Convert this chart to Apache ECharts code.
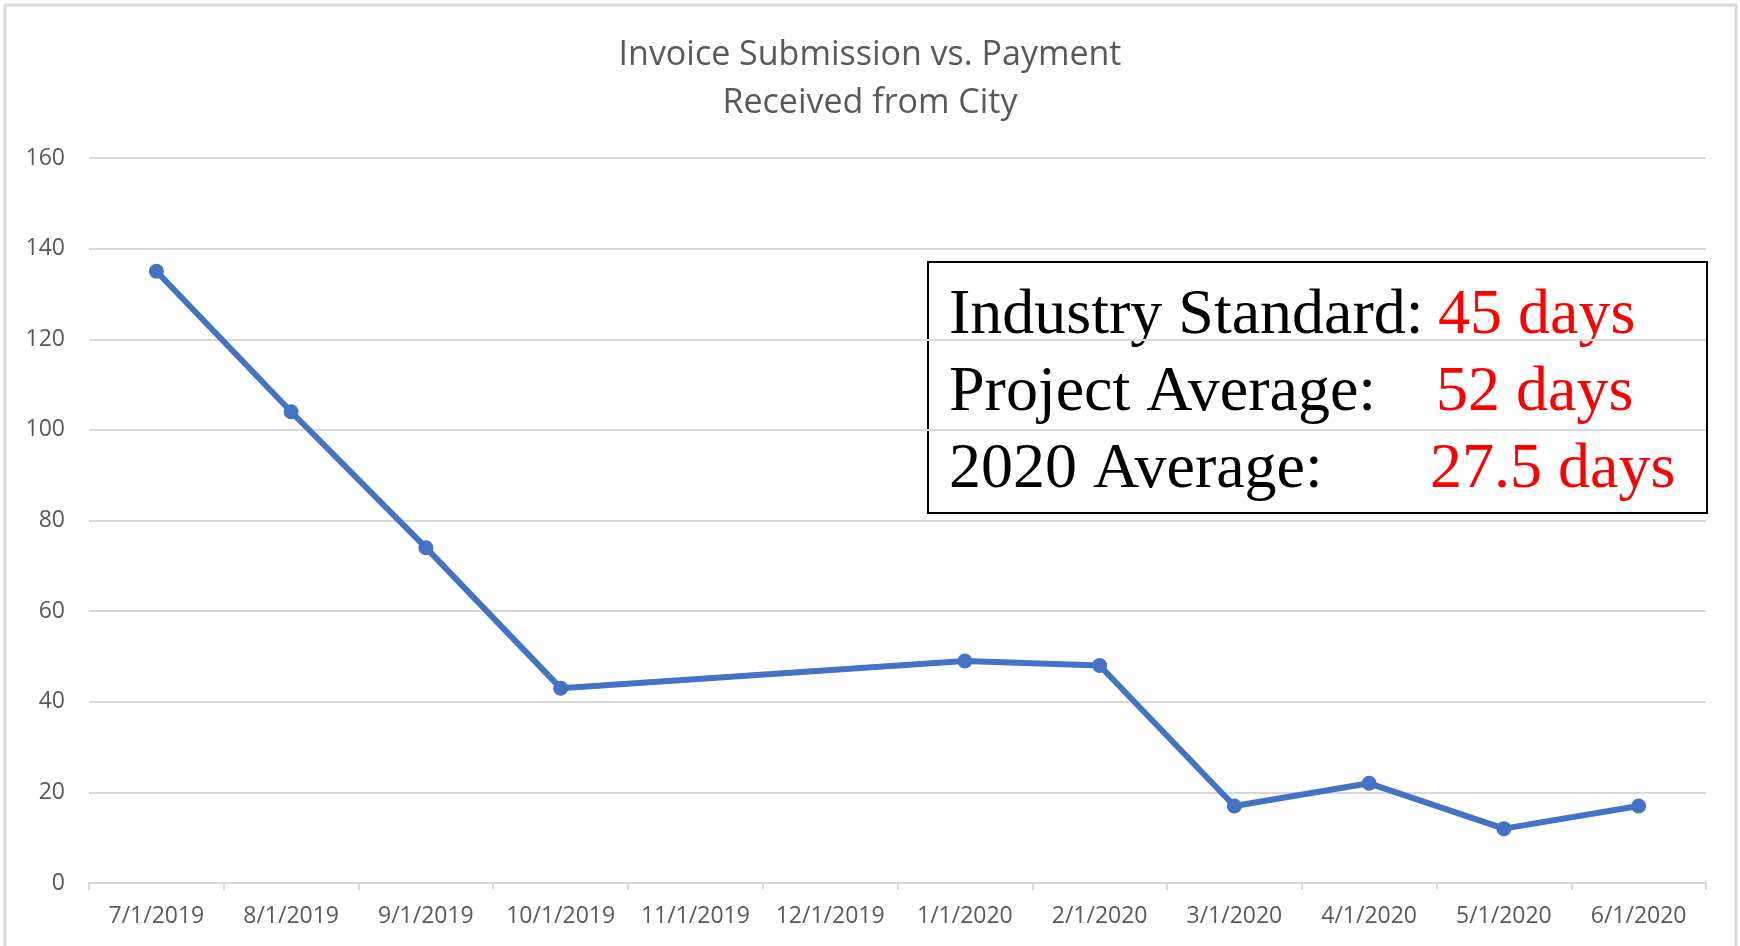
<!DOCTYPE html>
<html>
<head>
    <meta charset="utf-8">
    <title>Invoice Submission vs. Payment</title>
    <script src="https://cdn.jsdelivr.net/npm/echarts@6/dist/echarts.min.js"></script>
    <style>
        body { margin: 0; background: #fff; }
        #main { width: 1740px; height: 946px; }
    </style>
</head>
<body>
<div id="main"></div>
<script type="text/javascript">
    // data (days from invoice to payment)
    var months = ['7/1/2019', '8/1/2019', '9/1/2019', '10/1/2019', '11/1/2019', '12/1/2019',
                  '1/1/2020', '2/1/2020', '3/1/2020', '4/1/2020', '5/1/2020', '6/1/2020'];
    var days = [135, 104, 74, 43, null, null, 49, 48, 17, 22, 12, 17];

    // text box
    var noteLabels = ['Industry Standard:', 'Project Average:', '2020 Average:'];
    var noteValues = ['45 days', '52 days', '27.5 days'];

    var grey = '#595959';
    var gridGrey = '#d9d9d9';
    var axisFont = '"Open Sans", sans-serif';
    var serif = '"Liberation Serif", "Times New Roman", serif';

    var myChart = echarts.init(document.getElementById('main'));

    // text box elements
    var valueX = [1438, 1436, 1430];
    var rowY = [316, 393, 470];
    var boxChildren = [{
        type: 'rect',
        shape: { x: 928, y: 262, width: 779, height: 251 },
        style: { fill: '#fff', stroke: '#000', lineWidth: 2 }
    }];
    for (var i = 0; i < noteLabels.length; i++) {
        boxChildren.push({
            type: 'text',
            x: 949, y: rowY[i],
            style: { text: noteLabels[i], font: '64px ' + serif, fill: '#000', verticalAlign: 'middle' }
        });
        boxChildren.push({
            type: 'text',
            x: valueX[i], y: rowY[i],
            style: { text: noteValues[i], font: '64px ' + serif, fill: '#ff0000', verticalAlign: 'middle' }
        });
    }

    myChart.setOption({
        backgroundColor: '#fff',
        animation: false,
        title: {
            text: 'Invoice Submission vs. Payment\nReceived from City',
            left: 'center',
            top: 26,
            textStyle: {
                color: grey,
                fontFamily: axisFont,
                fontWeight: 'normal',
                fontSize: 34,
                lineHeight: 48
            }
        },
        grid: { left: 89, right: 34, top: 158, bottom: 63 },
        xAxis: {
            type: 'category',
            data: months,
            boundaryGap: true,
            axisLine: { lineStyle: { color: gridGrey, width: 2 } },
            axisTick: { show: true, length: 7, lineStyle: { color: gridGrey, width: 2 } },
            axisLabel: {
                interval: 0,
                margin: 22,
                color: grey,
                fontFamily: axisFont,
                fontSize: 23
            }
        },
        yAxis: {
            type: 'value',
            min: 0,
            max: 160,
            interval: 20,
            axisLine: { show: false },
            axisTick: { show: false },
            splitLine: { lineStyle: { color: gridGrey, width: 2 } },
            axisLabel: {
                margin: 24,
                color: grey,
                fontFamily: axisFont,
                fontSize: 23
            }
        },
        series: [{
            name: 'Days',
            type: 'line',
            data: days,
            connectNulls: true,
            symbol: 'circle',
            symbolSize: 15,
            lineStyle: { color: '#4472c4', width: 6 },
            itemStyle: { color: '#4472c4' }
        }],
        graphic: [
            {
                // outer chart border
                type: 'rect',
                shape: { x: 5, y: 5, width: 1731, height: 960 },
                style: { fill: 'none', stroke: gridGrey, lineWidth: 3 },
                silent: true
            },
            {
                type: 'group',
                children: boxChildren
            }
        ]
    });
</script>
</body>
</html>
